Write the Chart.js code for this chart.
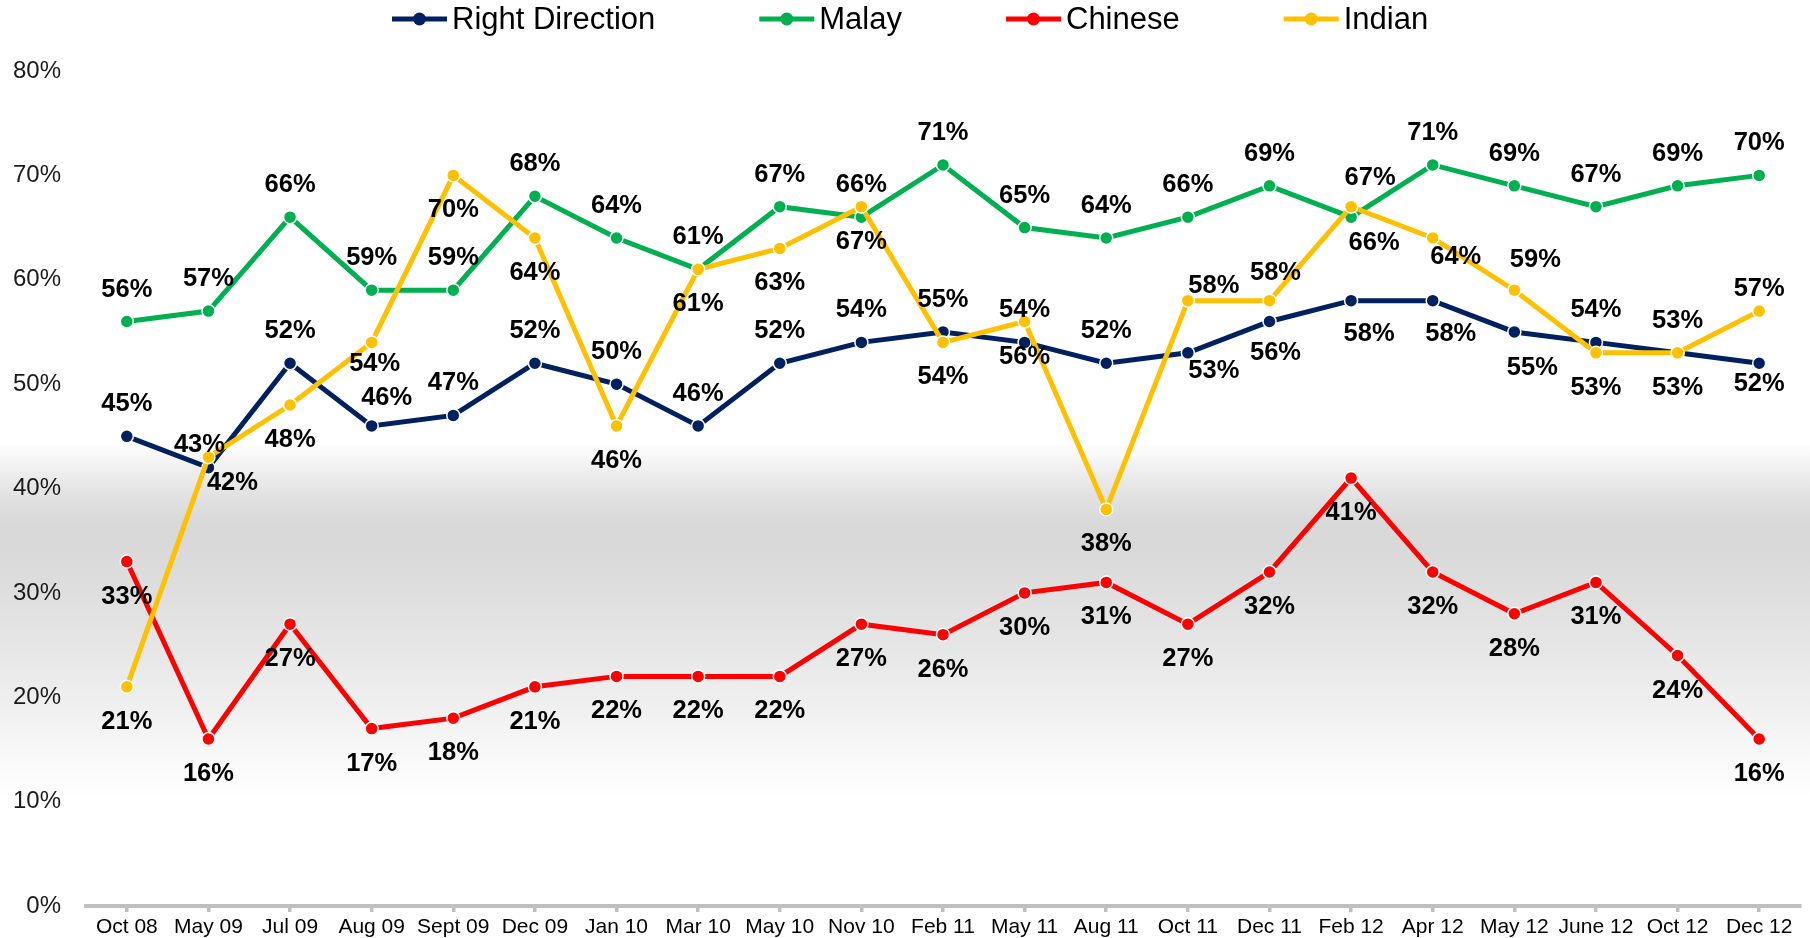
<!DOCTYPE html>
<html><head><meta charset="utf-8">
<script src="https://cdn.jsdelivr.net/npm/chart.js@4.4.1/dist/chart.umd.min.js"></script>
<style>html,body{margin:0;padding:0;background:#fff;overflow:hidden}</style>
</head><body>
<canvas id="c" width="1810" height="938"></canvas>
<script>
// ---- data ----
const categories = ['Oct 08','May 09','Jul 09','Aug 09','Sept 09','Dec 09','Jan 10','Mar 10','May 10','Nov 10','Feb 11','May 11','Aug 11','Oct 11','Dec 11','Feb 12','Apr 12','May 12','June 12','Oct 12','Dec 12'];
const rightDirection = [45,42,52,46,47,52,50,46,52,54,55,54,52,53,56,58,58,55,54,53,52];
const malay          = [56,57,66,59,59,68,64,61,67,66,71,65,64,66,69,66,71,69,67,69,70];
const chinese        = [33,16,27,17,18,21,22,22,22,27,26,30,31,27,32,41,32,28,31,24,16];
const indian         = [21,43,48,54,70,64,46,61,63,67,54,56,38,58,58,67,64,59,53,53,57];
const yTickLabels = ['0%','10%','20%','30%','40%','50%','60%','70%','80%'];
const seriesNames = ['Right Direction','Malay','Chinese','Indian'];

// ---- label placement (style, relative to each point) ----
const T = [0,-32], B = [0,35];
const rdLabelOffsets = [T,[24,15],T,[15,-28],T,T,T,T,T,T,T,T,T,[26,18],[6,31],[18,33],[18,33],[18,36],T,T,[0,21]];
const malayLabelOffsets = [T,T,T,T,T,T,T,T,T,T,T,T,T,T,T,[23,26],T,T,T,T,T];
const chineseLabelOffsets = categories.map(() => B);
const indianLabelOffsets = [B,[-9,-12],B,[3,22],B,B,B,B,B,B,B,B,B,[26,-15],[6,-28],[19,-29],[23,19],[21,-30],B,B,[0,-22]];
const labelOffsets = [rdLabelOffsets, malayLabelOffsets, chineseLabelOffsets, indianLabelOffsets];

const colors = ['#002060','#00b050','#ff0000','#ffc000'];
const FONT = '"Liberation Sans", Arial, sans-serif';

const bgPlugin = {
  id: 'bg',
  beforeDraw(chart) {
    const {ctx, width, height} = chart;
    const g = ctx.createLinearGradient(0, 0, 0, height);
    const s = (y) => y / height;
    g.addColorStop(0, '#ffffff');
    g.addColorStop(s(443), '#ffffff');
    g.addColorStop(s(470), '#efefef');
    g.addColorStop(s(500), '#e0e0e0');
    g.addColorStop(s(525), '#d8d8d8');
    g.addColorStop(s(560), '#dadada');
    g.addColorStop(s(640), '#e5e5e5');
    g.addColorStop(s(710), '#f0f0f0');
    g.addColorStop(s(760), '#f9f9f9');
    g.addColorStop(s(800), '#ffffff');
    g.addColorStop(1, '#ffffff');
    ctx.save();
    ctx.fillStyle = g;
    ctx.fillRect(0, 0, width, height);
    ctx.restore();
  }
};

const labelPlugin = {
  id: 'valueLabels',
  afterDatasetsDraw(chart) {
    const ctx = chart.ctx;
    ctx.save();
    ctx.font = 'bold 25.5px ' + FONT;
    ctx.fillStyle = '#000000';
    ctx.textAlign = 'center';
    ctx.textBaseline = 'middle';
    chart.data.datasets.forEach((ds, i) => {
      const meta = chart.getDatasetMeta(i);
      meta.data.forEach((pt, j) => {
        const off = labelOffsets[i][j];
        ctx.fillText(ds.data[j] + '%', pt.x + off[0], pt.y + off[1]);
      });
    });
    ctx.restore();
  }
};

const legendPlugin = {
  id: 'lineLegend',
  afterDraw(chart) {
    const ctx = chart.ctx;
    ctx.save();
    ctx.font = '31px ' + FONT;
    ctx.textBaseline = 'middle';
    ctx.textAlign = 'left';
    let x = 392;
    const y = 19;
    chart.data.datasets.forEach((ds) => {
      ctx.strokeStyle = ds.borderColor;
      ctx.lineWidth = 5;
      ctx.beginPath();
      ctx.moveTo(x, y);
      ctx.lineTo(x + 55, y);
      ctx.stroke();
      ctx.fillStyle = ds.borderColor;
      ctx.beginPath();
      ctx.arc(x + 27.5, y, 6.5, 0, Math.PI * 2);
      ctx.fill();
      ctx.fillStyle = '#000000';
      ctx.fillText(ds.label, x + 60, y + 1);
      x += 60 + ctx.measureText(ds.label).width + 104;
    });
    ctx.restore();
  }
};

const seriesData = [rightDirection, malay, chinese, indian];
const datasets = seriesData.map((d, i) => ({
  label: seriesNames[i],
  data: d,
  borderColor: colors[i],
  backgroundColor: colors[i],
  borderWidth: 5,
  pointRadius: 6.5,
  pointBorderWidth: 1.5,
  pointBorderColor: '#ffffff',
  pointBackgroundColor: colors[i],
  tension: 0,
  fill: false,
  order: 4 - i
}));

new Chart(document.getElementById('c'), {
  type: 'line',
  data: { labels: categories, datasets },
  plugins: [bgPlugin, labelPlugin, legendPlugin],
  options: {
    responsive: false,
    devicePixelRatio: 1,
    animation: false,
    layout: { padding: { top: 71, right: 10, bottom: 0, left: 0 } },
    plugins: { legend: { display: false }, tooltip: { enabled: false } },
    scales: {
      x: {
        type: 'category',
        offset: true,
        grid: { display: true, drawOnChartArea: false, drawTicks: true, tickLength: 6, color: '#bfbfbf', lineWidth: 3.5, offset: false },
        border: { display: true, color: '#bfbfbf', width: 4 },
        ticks: { color: '#000000', font: { family: FONT, size: 21 }, padding: 3, maxRotation: 0, autoSkip: false },
        afterFit(scale) { scale.height = 32; }
      },
      y: {
        min: 0, max: 80,
        grid: { display: false, drawTicks: false },
        border: { display: false },
        ticks: {
          stepSize: 10,
          color: '#1a1a1a',
          font: { family: FONT, size: 24 },
          padding: 25,
          callback: (v) => yTickLabels[Math.round(v / 10)]
        },
        afterFit(scale) { scale.width = 86; scale.paddingTop = 0; scale.paddingBottom = 0; }
      }
    }
  }
});
</script>
</body></html>
